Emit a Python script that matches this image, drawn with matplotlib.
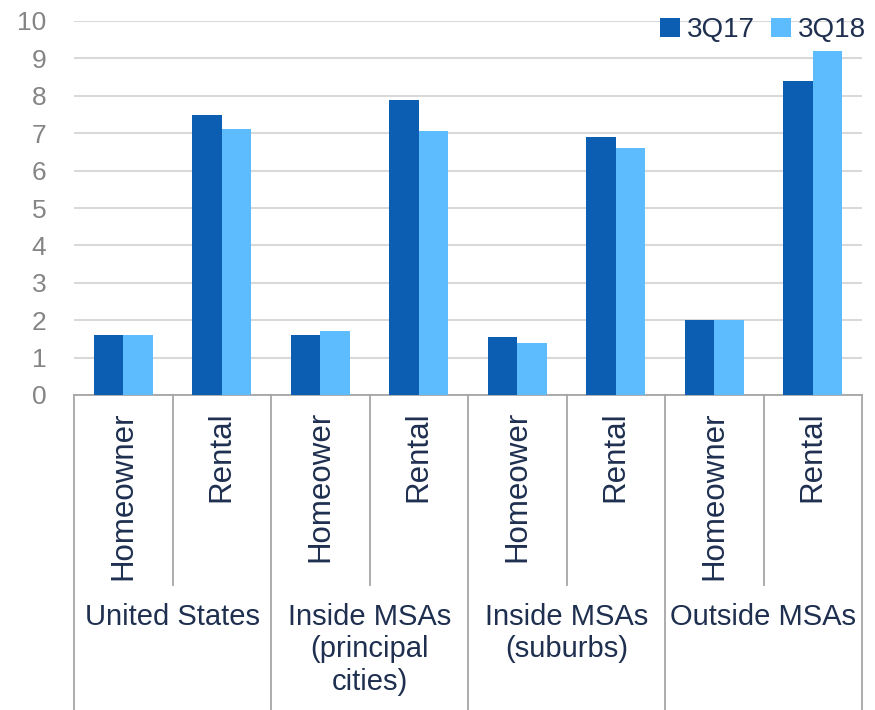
import matplotlib.pyplot as plt
import numpy as np
from matplotlib.transforms import blended_transform_factory

plt.rcParams['font.family'] = ['Liberation Sans', 'DejaVu Sans']

groups = ["United States", "Inside MSAs\n(principal\ncities)", "Inside MSAs\n(suburbs)", "Outside MSAs"]
tenure = ["Homeowner", "Rental", "Homeower", "Rental", "Homeower", "Rental", "Homeowner", "Rental"]
q3_17 = [1.6, 7.5, 1.6, 7.9, 1.55, 6.9, 2.0, 8.4]
q3_18 = [1.6, 7.1, 1.7, 7.05, 1.4, 6.6, 2.0, 9.2]

dark = "#0b5eb2"
light = "#5cbcfe"
navy = "#1e2f4f"
line_gray = "#a6a6a6"

fig = plt.figure(figsize=(8.75, 7.1), dpi=100)
ax = fig.add_axes([74 / 875, 1 - 395 / 710, (862 - 74) / 875, (395 - 21) / 710])

x = np.arange(len(tenure))
w = 0.3
ax.bar(x - w / 2, q3_17, w, color=dark, label="3Q17", zorder=3)
ax.bar(x + w / 2, q3_18, w, color=light, label="3Q18", zorder=3)

ax.set_xlim(-0.5, len(tenure) - 0.5)
ax.set_ylim(0, 10)
ax.set_yticks(range(0, 11))
ax.tick_params(axis='y', length=0, pad=20, labelsize=19, labelcolor="#858585")
ax.set_xticks([])
ax.grid(axis='y', color="#d9d9d9", linewidth=1.5, zorder=0)
for s in ["top", "right", "left"]:
    ax.spines[s].set_visible(False)
ax.spines["bottom"].set_color(line_gray)
ax.spines["bottom"].set_linewidth(1.3)

# category table under the plot
tr = blended_transform_factory(ax.transData, fig.transFigure)
y_top = 1 - 395 / 710
y_sub = 1 - 585 / 710
for i in range(len(tenure) + 1):
    xb = i - 0.5
    y_end = 0 if i % 2 == 0 else y_sub
    ax.plot([xb, xb], [y_top, y_end], transform=tr, color=line_gray,
            linewidth=1.3, clip_on=False)

for i, lab in enumerate(tenure):
    ax.text(i, 1 - 411 / 710, lab, transform=tr, rotation=90, ha='center', va='top',
            fontsize=22.5, color=navy)

for g, lab in enumerate(groups):
    ax.text(2 * g + 0.5, 1 - 603 / 710, lab, transform=tr, ha='center', va='top',
            fontsize=21, color=navy, linespacing=1.2)

ax.legend(loc='upper right', bbox_to_anchor=(866 / 875, 1 - 17 / 710),
          bbox_transform=fig.transFigure, ncol=2, frameon=False, fontsize=20,
          handlelength=0.7, handleheight=0.7, handletextpad=0.25, columnspacing=0.6,
          labelcolor=navy, borderaxespad=0, borderpad=0)

fig.savefig("out.png", dpi=100)
